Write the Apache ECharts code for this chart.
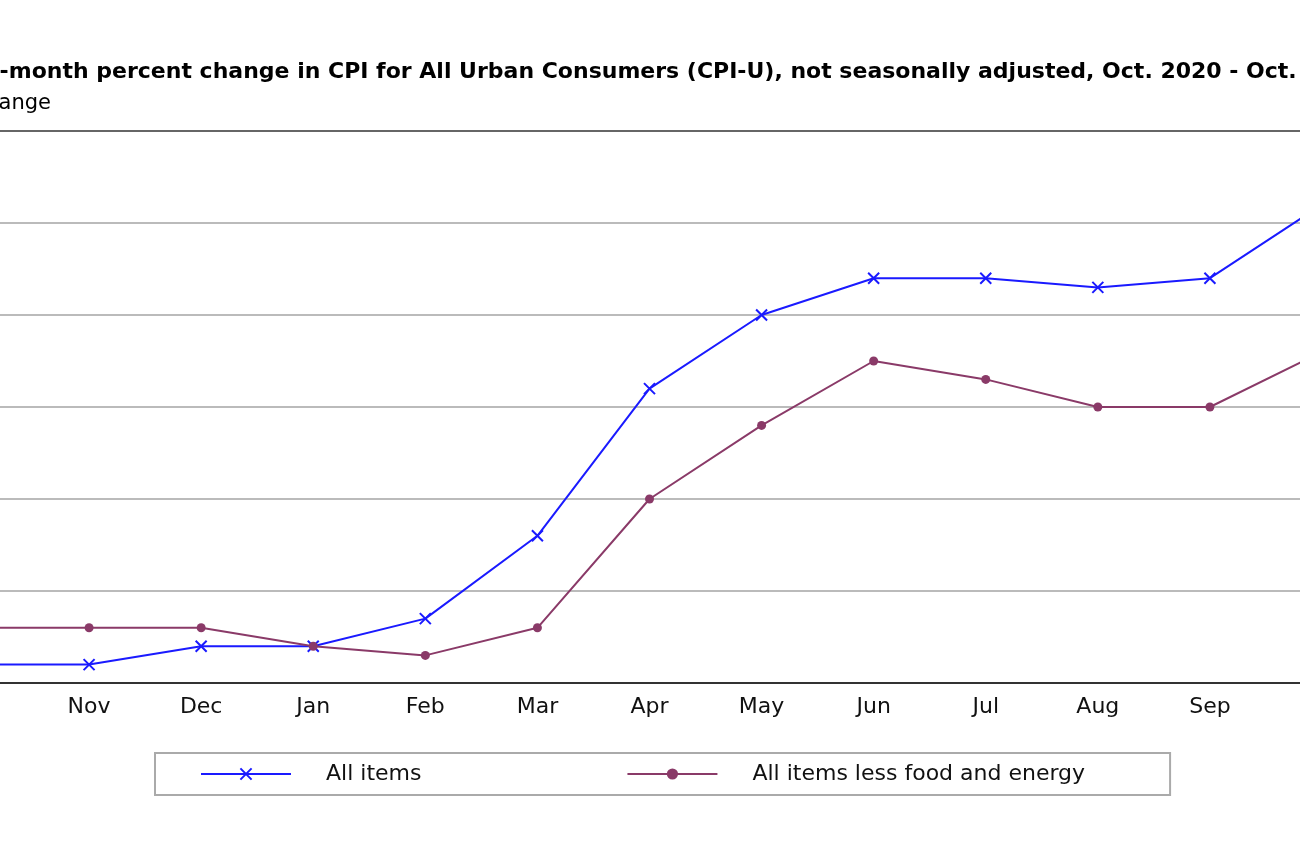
<!DOCTYPE html>
<html><head><meta charset="utf-8">
<script src="https://cdn.jsdelivr.net/npm/echarts@6/dist/echarts.min.js"></script>
<style>html,body{margin:0;padding:0;overflow:hidden;background:#fff}
#c{position:absolute;left:-150px;top:0;width:1600px;height:867px}</style>
</head><body><div id="c"></div>
<script>
const categories = ['Oct 2020','Nov','Dec','Jan','Feb','Mar','Apr','May','Jun','Jul','Aug','Sep','Oct 2021'];
const allItems = [1.2,1.2,1.4,1.4,1.7,2.6,4.2,5.0,5.4,5.4,5.3,5.4,6.2];
const coreItems = [1.6,1.6,1.6,1.4,1.3,1.6,3.0,3.8,4.5,4.3,4.0,4.0,4.6];
const F = 'DejaVu Sans';
const chart = echarts.init(document.getElementById('c'));
chart.setOption({
  animation:false,
  graphic:[
    {type:'text',left:119,top:61,style:{text:'12-month percent change in CPI for All Urban Consumers (CPI-U), not seasonally adjusted, Oct. 2020 - Oct. 2021',font:'bold 22px '+F,fill:'#000'}},
    {type:'text',left:38,top:93,style:{text:'Percent change',font:'21px '+F,fill:'#000'}}
  ],
  grid:{left:127,right:128,top:131,bottom:184},
  xAxis:{type:'category',data:categories,boundaryGap:false,
    axisLine:{lineStyle:{color:'#333',width:2}},axisTick:{show:false},
    axisLabel:{fontFamily:F,fontSize:22,color:'#111',margin:13,formatter:v=>v.split(' ')[0]}},
  yAxis:{type:'value',min:1,max:7,interval:1,axisLine:{show:false},axisTick:{show:false},
    axisLabel:{fontFamily:F,fontSize:21,color:'#111'},
    splitLine:{lineStyle:{color:['#bbb','#bbb','#bbb','#bbb','#bbb','#bbb','#666'],width:2}}},
  legend:{bottom:72,left:305,itemWidth:90,itemHeight:14,itemGap:205,
    padding:[10,85,10,45],borderColor:'#aaa',borderWidth:2,
    textStyle:{fontFamily:F,fontSize:22,color:'#111',padding:[0,0,0,30]}},
  series:[
    {name:'All items',type:'line',data:allItems,color:'#1a1aff',
      symbol:'path://M0,0L10,10M10,0L0,10',symbolSize:11,
      lineStyle:{width:2},itemStyle:{color:'#1a1aff',borderColor:'#1a1aff',borderWidth:2}},
    {name:'All items less food and energy',type:'line',data:coreItems,color:'#8a3a68',
      symbol:'circle',symbolSize:9,lineStyle:{width:2},itemStyle:{color:'#8a3a68'}}
  ]
});
</script></body></html>
